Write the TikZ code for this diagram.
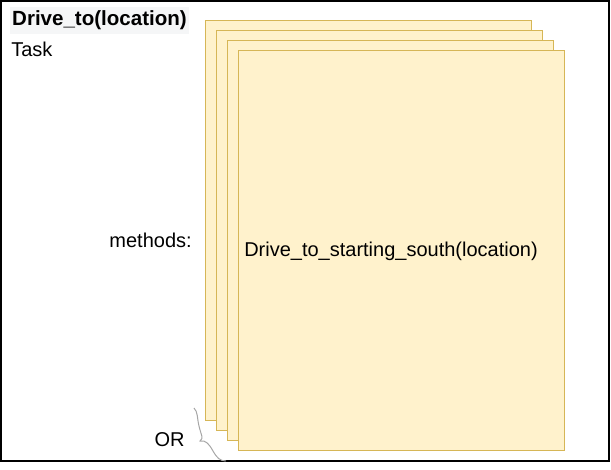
\documentclass[tikz,border=0pt]{standalone}
\usepackage{fontspec}
\setmainfont{Liberation Sans}
\usepackage{xcolor}
\usetikzlibrary{calc}
\definecolor{methodfill}{HTML}{FFF2CC}
\definecolor{methodline}{HTML}{D6B656}
\definecolor{titlebg}{HTML}{F5F6F7}
\definecolor{bracegray}{HTML}{A6A6A6}
\tikzset{method/.style={draw=methodline, fill=methodfill, line width=0.75pt, anchor=north west, minimum width=244.5pt, minimum height=300pt, inner sep=0pt},
	txt/.style={font=\fontsize{15}{18}\selectfont, inner sep=0pt}}

\begin{document}
\begin{tikzpicture}[x=0.75pt, y=-0.75pt, line join=miter]
		\useasboundingbox (0,0) rectangle (611,470);
		\draw[line width=1pt] (1,1) rectangle (609,461);
		\foreach \i in {0,...,3} {
			\node[method] (m\i) at ({205+11*\i},{20+10*\i}) {};
		}
		\node[txt, font=\fontsize{15.4}{18}\selectfont\bfseries, fill=titlebg, inner xsep=1.5pt, inner ysep=3pt] (title) at (99.5,20.5) {Drive\_to(location)};
		\node[txt, anchor=west] (task) at (11,49) {Task};
		\node[txt, anchor=east] (methods) at (192,240) {methods:};
		\node[txt, anchor=base] (name) at (391,257) {Drive\_to\_starting\_south(location)};
		\node[txt] (or) at (169.5,440) {OR};
		\draw[bracegray, line width=0.75pt] (194,408) .. controls (198,412) and (197,418) .. (199,426) .. controls (201,435) and (204,438) .. (200,441) .. controls (206,440) and (209,444) .. (213,451) .. controls (217,458) and (220,461) .. (226,461);
	\end{tikzpicture}
\end{document}
